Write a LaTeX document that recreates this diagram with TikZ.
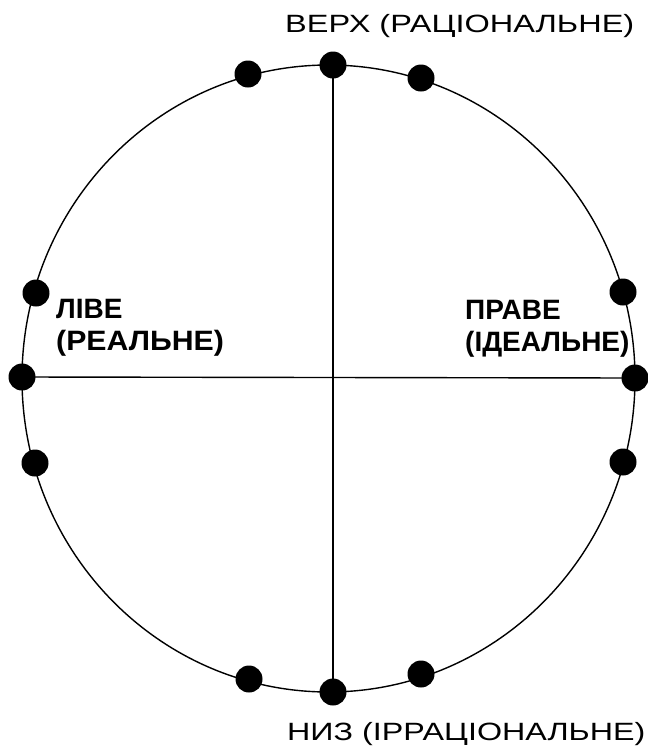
\documentclass[tikz,border=0pt]{standalone}
\usepackage{fontspec}
\setmainfont{Liberation Sans}
\begin{document}
\begin{tikzpicture}[x=1pt,y=-1pt,
  dot/.style={circle,fill=black,inner sep=0pt,minimum size=27pt},
  ln/.style={line width=1.4pt},
  toplabel/.style={anchor=base west,inner sep=0pt,font=\fontsize{25}{30}\selectfont},
  sidelabel/.style={anchor=base west,inner sep=0pt,align=left,font=\fontsize{28}{32}\selectfont\bfseries}]
\useasboundingbox (0,0) rectangle (648,756);
\draw[ln] (328.5,378.5) ellipse [x radius=306.5, y radius=313.5];
\node[dot] (t) at (333,65) {};
\node[dot] (tl) at (248,74) {};
\node[dot] (tr) at (421,78) {};
\node[dot] (b) at (333,692) {};
\node[dot] (bl) at (249,679) {};
\node[dot] (br) at (421,674) {};
\node[dot] (l) at (22,377) {};
\node[dot] (lu) at (36,293) {};
\node[dot] (ld) at (35,463) {};
\node[dot] (r) at (635,378) {};
\node[dot] (ru) at (623,292) {};
\node[dot] (rd) at (623,462) {};
\draw[ln] (t.center) -- (b.center);
\draw[ln] (l.center) -- (r.center);
\node[toplabel] (top) at (285,32) {\scalebox{1.3}[1]{ВЕРХ (РАЦІОНАЛЬНЕ)}};
\node[toplabel] (bot) at (287,740) {\scalebox{1.29}[1]{НИЗ (ІРРАЦІОНАЛЬНЕ)}};
\node[sidelabel] (left) at (56,350) {ЛІВЕ\\\scalebox{1.08}[1]{(РЕАЛЬНЕ)}};
\node[sidelabel] (right) at (465,351) {ПРАВЕ\\(ІДЕАЛЬНЕ)};
\end{tikzpicture}
\end{document}
